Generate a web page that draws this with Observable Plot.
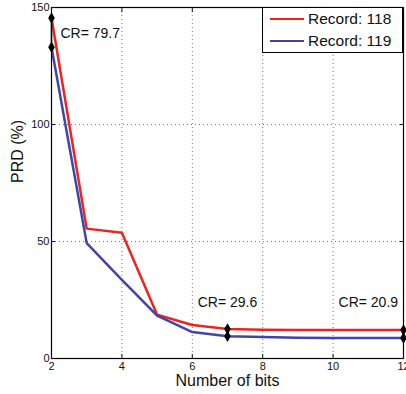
<!DOCTYPE html>
<html>
<head>
<meta charset="utf-8">
<script src="https://cdn.jsdelivr.net/npm/d3@7"></script>
<script src="https://cdn.jsdelivr.net/npm/@observablehq/plot@0.6"></script>
<style>
  html, body { margin: 0; padding: 0; background: #fff; }
  #wrap { position: relative; width: 406px; height: 394px; font-family: "Liberation Sans", Arial, sans-serif; }
  #legend { position: absolute; left: 262px; top: 7px; width: 139px; height: 44px; border: 1px solid #000; background: #fff; box-sizing: content-box; }
  .row { position: absolute; left: 0; height: 20px; display: flex; align-items: center; font-size: 15.5px; color: #111; }
  .sw { width: 34px; height: 0; border-top: 2.5px solid; margin-left: 7px; margin-right: 4px; }
</style>
</head>
<body>
<div id="wrap"></div>
<script>
const bits = [2, 3, 4, 5, 6, 7, 8, 9, 10, 11, 12];
const rec118 = [145.5, 55.5, 53.7, 18.7, 14.3, 12.6, 12.3, 12.2, 12.2, 12.2, 12.2];
const rec119 = [133, 49.3, 33.6, 18.3, 11.3, 9.5, 9.2, 8.9, 8.8, 8.8, 8.8];
const seriesNames = ["Record: 118", "Record: 119"];
const seriesColors = ["#e8261f", "#4343a8"];
const markerBits = [2, 7, 12];
const crX = [3.1, 7, 11];
const crY = [139, 24, 24];
const crText = ["CR= 79.7", "CR= 29.6", "CR= 20.9"];
const xTicks = [2, 4, 6, 8, 10, 12];
const yTicks = [0, 50, 100, 150];
const xGrid = [4, 6, 8, 10];
const yGrid = [50, 100];

const data118 = bits.map((b, i) => ({x: b, y: rec118[i]}));
const data119 = bits.map((b, i) => ({x: b, y: rec119[i]}));
const markers = markerBits.map(b => {
  const i = bits.indexOf(b);
  return {x: b, lo: rec119[i], hi: rec118[i]};
});
const markerPts = markers.flatMap(m => [{x: m.x, y: m.hi}, {x: m.x, y: m.lo}]);
const crData = crText.map((t, i) => ({x: crX[i], y: crY[i], t}));

const chart = Plot.plot({
  width: 406,
  height: 394,
  marginLeft: 51,
  marginRight: 3,
  marginTop: 7,
  marginBottom: 36,
  style: {fontFamily: "Liberation Sans, Arial, sans-serif", background: "#fff", color: "#111"},
  x: {domain: [2, 12]},
  y: {domain: [0, 150]},
  marks: [
    Plot.gridX(xGrid, {stroke: "#555", strokeOpacity: 1, strokeDasharray: "1,3", strokeWidth: 0.8}),
    Plot.gridY(yGrid, {stroke: "#555", strokeOpacity: 1, strokeDasharray: "1,3", strokeWidth: 0.8}),
    Plot.line(data118, {x: "x", y: "y", stroke: seriesColors[0], strokeWidth: 2.5}),
    Plot.line(data119, {x: "x", y: "y", stroke: seriesColors[1], strokeWidth: 2.5}),
    Plot.ruleX(markers, {x: "x", y1: "lo", y2: "hi", stroke: "#000", strokeWidth: 1.5}),
    Plot.dot(markerPts, {x: "x", y: "y", symbol: "diamond", r: 3.5, fill: "#000", stroke: "none"}),
    Plot.text(crData, {x: "x", y: "y", text: "t", fontSize: 14, fill: "#111"}),
    Plot.frame({stroke: "#000", strokeWidth: 1.2}),
    Plot.axisX(xTicks, {anchor: "bottom", tickSize: -4, tickPadding: 8, fontSize: 11, label: null}),
    Plot.axisX(xTicks, {anchor: "top", tickSize: -4, text: null, label: null}),
    Plot.axisY(yTicks, {anchor: "left", tickSize: -4, tickPadding: 6, fontSize: 11, label: null}),
    Plot.axisY(yTicks, {anchor: "right", tickSize: -4, text: null, label: null}),
    Plot.text(["Number of bits"], {frameAnchor: "bottom", dy: 27, fontSize: 16, fill: "#111"}),
    Plot.text(["PRD (%)"], {frameAnchor: "left", dx: -34, rotate: -90, fontSize: 16, fill: "#111"})
  ]
});

const wrap = document.getElementById("wrap");
wrap.appendChild(chart);
const legend = document.createElement("div");
legend.id = "legend";
seriesNames.forEach((name, i) => {
  const row = document.createElement("div");
  row.className = "row";
  row.style.top = (i === 0 ? 1 : 23) + "px";
  const sw = document.createElement("div");
  sw.className = "sw";
  sw.style.borderTopColor = seriesColors[i];
  const lab = document.createElement("span");
  lab.textContent = name;
  row.appendChild(sw);
  row.appendChild(lab);
  legend.appendChild(row);
});
wrap.appendChild(legend);
</script>
</body>
</html>
